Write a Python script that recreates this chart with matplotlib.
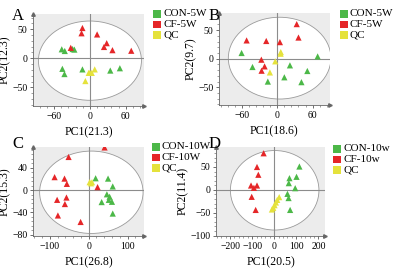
import matplotlib
matplotlib.use("Agg")
import matplotlib.pyplot as plt
from matplotlib.patches import Ellipse, Rectangle
from matplotlib.ticker import AutoMinorLocator

plt.rcParams['font.family'] = ['Liberation Serif', 'DejaVu Serif']

# panel A
a_con_x = [-47, -42, -29, -26, -46, -42.5, -12.5, 34, 50]
a_con_y = [15.5, 12.6, 16, 15, -18, -27, -19, -21, -17]
a_cf_x = [-12.5, -14, -32, 12, 28, 23.5, 37.6, 69]
a_cf_y = [52, 43, 18, 41, 26, 19.5, 14, 13]
a_qc_x = [8, 3, 0, -2, -7.6]
a_qc_y = [-19, -25, -25, -25, -39]

# panel B
b_con_x = [-60.5, -42, -16, 12, 21.5, 41, 51, 68.5]
b_con_y = [10, -14.5, -40, -32.5, -11.6, -41, -21.5, 4]
b_cf_x = [-52, -18.7, 4.5, 33, 36, -27, -21.5, -26.6]
b_cf_y = [32, 31, 29, 60.5, 37, -1.7, -13.4, -21]
b_qc_x = [6, 5.7, -3.4, -12.5]
b_qc_y = [11.6, 8.7, -4.6, -24]

# panel C
c_con_x = [18, 50, 62, 47, 54, 52, 60, 33.5, 62]
c_con_y = [21, 20.4, 6.4, -7.6, -12, -17.5, -21, -21.5, -42]
c_cf_x = [41, -51.5, -87.5, -62, -56, -81, -57, -61, -79, -20.6, 23]
c_cf_y = [76, 59, 23, 20.4, 11, -17.5, -13.4, -25, -45.4, -57, 5.2]
c_qc_x = [2.6, 8.6, 6]
c_qc_y = [14, 14, 12]

# panel D
d_con_x = [114, 101, 69, 66, 95, 60, 65, 72]
d_con_y = [51, 28.5, 25.5, 14.6, 3.6, -8.8, -18, -44]
d_cf_x = [-48, -78, -72, -78, -105, -92, -102, -84]
d_cf_y = [80, 50, 33, 9.5, 9.5, 4.4, -15.3, -44]
d_qc_x = [22.5, 13.5, 7.5, 1.5, -4.5, -10.5]
d_qc_y = [-16, -22, -27.7, -33.6, -39.4, -43]

green = '#4cb848'
red = '#e52628'
yellow = '#e5e23c'

panels = [
    dict(rect=[0.084, 0.607, 0.282, 0.341], label='A', xl='PC1(21.3)', yl='PC2(12.3)',
         xlim=(-95, 90), ylim=(-82, 76), xt=[-60, 0, 60], yt=[-50, 0, 50],
         ell=(0, -4, 172, 136), legx=153, legy=10,
         names=['CON-5W', 'CF-5W', 'QC'],
         data=[(a_con_x, a_con_y), (a_cf_x, a_cf_y), (a_qc_x, a_qc_y)], lab_xy=(12, 20)),
    dict(rect=[0.557, 0.611, 0.282, 0.341], label='B', xl='PC1(18.6)', yl='PC2(9.7)',
         xlim=(-99, 89), ylim=(-81, 80), xt=[-60, 0, 60], yt=[-50, 0, 50],
         ell=(4, 1, 174, 143), legx=340, legy=10,
         names=['CON-5W', 'CF-5W', 'QC'],
         data=[(b_con_x, b_con_y), (b_cf_x, b_cf_y), (b_qc_x, b_qc_y)], lab_xy=(209, 20)),
    dict(rect=[0.084, 0.126, 0.282, 0.33], label='C', xl='PC1(26.8)', yl='PC2(15.3)',
         xlim=(-143, 142), ylim=(-82, 77), xt=[-100, 0, 100], yt=[-80, -40, 0, 40],
         ell=(7, -4, 266, 147), legx=152, legy=143,
         names=['CON-10W', 'CF-10W', 'QC'],
         data=[(c_con_x, c_con_y), (c_cf_x, c_cf_y), (c_qc_x, c_qc_y)], lab_xy=(12, 148)),
    dict(rect=[0.550, 0.126, 0.277, 0.33], label='D', xl='PC1(20.5)', yl='PC2(11.4)',
         xlim=(-263, 230), ylim=(-101, 94), xt=[-200, -100, 0, 100, 200], yt=[-100, -50, 0, 50],
         ell=(2, -1, 401, 174), legx=333, legy=145,
         names=['CON-10w', 'CF-10w', 'QC'],
         data=[(d_con_x, d_con_y), (d_cf_x, d_cf_y), (d_qc_x, d_qc_y)], lab_xy=(209, 148)),
]

W, H = 393, 270
fig = plt.figure(figsize=(W / 100, H / 100), dpi=100)

for p in panels:
    ax = fig.add_axes(p['rect'])
    ax.set_facecolor('#ececec')
    cx, cy, ew, eh = p['ell']
    ax.add_patch(Ellipse((cx, cy), ew, eh, facecolor='white', edgecolor='#9a9a9a', lw=0.6, zorder=0.5))
    ax.axhline(0, color='#8c8c8c', lw=0.8, zorder=1)
    ax.axvline(0, color='#8c8c8c', lw=0.8, zorder=1)
    for (xs, ys), c in zip(p['data'], [green, red, yellow]):
        ax.scatter(xs, ys, marker='^', s=20, color=c, edgecolors='none', zorder=3)
    ax.set_xlim(p['xlim'])
    ax.set_ylim(p['ylim'])
    ax.set_xticks(p['xt'])
    ax.set_yticks(p['yt'])
    ax.xaxis.set_minor_locator(AutoMinorLocator(5))
    ax.yaxis.set_minor_locator(AutoMinorLocator(5))
    ax.tick_params(labelsize=7, length=2.5, width=0.6, color='#555555', pad=1.5)
    ax.tick_params(which='minor', length=1.3, width=0.5, color='#777777')
    for s in ['top', 'right']:
        ax.spines[s].set_visible(False)
    for s in ['left', 'bottom']:
        ax.spines[s].set_color('#666666')
        ax.spines[s].set_linewidth(0.6)
    ax.plot(1, 0, '>', color='#666666', ms=2.5, transform=ax.transAxes, clip_on=False)
    ax.plot(0, 1, '^', color='#666666', ms=2.5, transform=ax.transAxes, clip_on=False)
    ax.set_xlabel(p['xl'], fontsize=8.5, labelpad=4)
    ax.set_ylabel(p['yl'], fontsize=8.5, labelpad=1)
    lx, ly = p['lab_xy']
    fig.text(lx / W, 1 - ly / H, p['label'], fontsize=12, va='baseline', ha='left')
    # legend
    for i, (name, c) in enumerate(zip(p['names'], [green, red, yellow])):
        y0 = p['legy'] + i * 10.7
        fig.patches.append(Rectangle((p['legx'] / W, 1 - (y0 + 7.5) / H), 8 / W, 7.5 / H,
                                     transform=fig.transFigure, facecolor=c, edgecolor='none'))
        fig.text((p['legx'] + 10) / W, 1 - (y0 + 3.8) / H, name, fontsize=8, va='center', ha='left')

fig.savefig('out.png', dpi=100)
